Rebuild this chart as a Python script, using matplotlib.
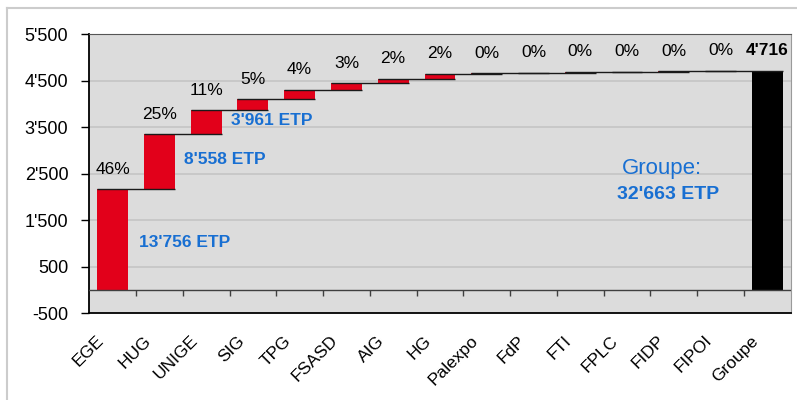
#!/usr/bin/env python3
# waterfall of group share by entity

import numpy as np
import matplotlib.pyplot as plt
from matplotlib.transforms import ScaledTranslation
from matplotlib.lines import Line2D

plt.rcParams['font.family'] = ['Liberation Sans', 'DejaVu Sans']

categories = ["EGE", "HUG", "UNIGE", "SIG", "TPG", "FSASD", "AIG", "HG",
              "Palexpo", "FdP", "FTI", "FPLC", "FIDP", "FIPOI"]
values = [2162, 1187, 515, 236, 205, 143, 99, 100, 20, 6, 16, 8, 6, 13]
total_label = "Groupe"
etp_values = [13756, 8558, 3961]
group_etp = 32663
y_ticks = [-500, 500, 1500, 2500, 3500, 4500, 5500]


def fmt(v):
    return f"{v:,}".replace(",", "'")


total = sum(values)
starts = np.concatenate([[0], np.cumsum(values)[:-1]])
cum = np.cumsum(values)
labels = categories + [total_label]
n = len(labels)
x = np.arange(n)
width = 0.66

fig = plt.figure(figsize=(7.97, 4.0), dpi=100)
ax = fig.add_axes([0.112, 0.2168, 0.880, 0.6975])
ax.set_facecolor('#dcdcdc')

# gridlines
for t in y_ticks[1:]:
    ax.axhline(t, color='#c4c4c4', lw=1.2, zorder=1)
ax.axhline(0, color='#404040', lw=1.0, zorder=3)

# bars
ax.bar(x[:-1], values, bottom=starts, width=width, color='#e2001a', zorder=2)
ax.bar(x[-1], total, width=width, color='black', zorder=2)

# connectors
for i in range(n - 1):
    ax.hlines(cum[i], x[i] - width / 2, x[i + 1] + width / 2,
              color='#1a1a1a', lw=1.0, zorder=4)

# ticks on zero line between categories
ax.vlines(x[:-1] + 0.5, -130, 0, color='#404040', lw=1.0, zorder=3)

# percentages
for i, v in enumerate(values):
    ax.text(x[i], cum[i] + 430, f"{round(100 * v / total):.0f}%",
            ha='center', va='center', fontsize=12.5, color='black')
ax.text(x[-1], total + 430, fmt(total), ha='center', va='center',
        fontsize=12.5, fontweight='bold', color='black')

# ETP annotations
blue = '#186fd2'
etp_pos = [(1.54, 1013), (2.39, 2798), (3.40, 3637)]
for (px, py), e in zip(etp_pos, etp_values):
    ax.text(px, py, f"{fmt(e)} ETP", ha='center', va='center',
            fontsize=12.5, fontweight='bold', color=blue)
ax.text(11.75, 2624, "Groupe:", ha='center', va='center', fontsize=16,
        color=blue)
ax.text(11.87, 2045, f"{fmt(group_etp)} ETP", ha='center', va='center',
        fontsize=14, fontweight='bold', color=blue)

ax.set_xlim(-0.5, n - 0.5)
ax.set_ylim(-500, 5500)
ax.set_yticks(y_ticks)
ax.set_yticklabels([fmt(t) for t in y_ticks], fontsize=13)
ax.tick_params(axis='y', direction='out', length=6, width=1, pad=9)

ax.set_xticks(x)
ax.set_xticklabels(labels, fontsize=12.5, rotation=45, ha='right',
                   va='center', rotation_mode='anchor')
ax.tick_params(axis='x', length=0, pad=0)
offset = ScaledTranslation(-11 / 100, -25 / 100, fig.dpi_scale_trans)
for lab in ax.get_xticklabels():
    lab.set_transform(lab.get_transform() + offset)

for side in ['left', 'bottom']:
    ax.spines[side].set_color('black')
    ax.spines[side].set_linewidth(1.3)
ax.spines['top'].set_color('#555555')
ax.spines['right'].set_color('#9a9a9a')

# outer frame
fig.add_artist(Line2D([0.0088, 0.0088], [0.0, 0.98], color='#cccccc', lw=1.5))
fig.add_artist(Line2D([0.0088, 1.0], [0.98, 0.98], color='#cccccc', lw=1.5))

plt.savefig("out.png", dpi=100)
